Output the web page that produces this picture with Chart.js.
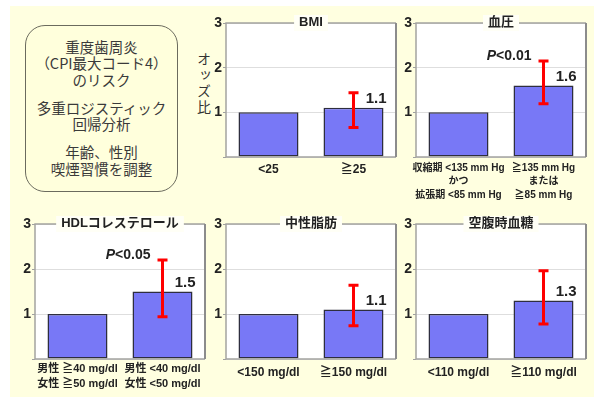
<!DOCTYPE html>
<html>
<head>
<meta charset="utf-8">
<script src="https://cdn.jsdelivr.net/npm/chart.js@4.4.1/dist/chart.umd.min.js"></script>
<style>
  html, body { margin: 0; padding: 0; background: #fff; }
  #page { position: relative; width: 594px; height: 397px; overflow: hidden; background: #fff;
          font-family: 'Noto Sans CJK JP', sans-serif; }
  #bg { position: absolute; left: 10px; top: 6px; right: 0; bottom: 0; background: #ffffe0; }
  #note { position: absolute; left: 25px; top: 25px; width: 153px; height: 167px; box-sizing: border-box;
          border: 1.5px solid #6b6b5e; border-radius: 20px; background: #ffffdc; color: #3a3a3a;
          font-size: 14.5px; line-height: 16.5px; text-align: center; padding-top: 12.5px; }
  #note .grp + .grp { margin-top: 11.5px; }
  #ylab { position: absolute; left: 197px; top: 52px; writing-mode: vertical-rl; font-size: 14px;
          letter-spacing: 2px; color: #333; line-height: 14px; }
  canvas { position: absolute; }
</style>
</head>
<body>
<div id="page">
  <div id="bg"></div>
  <div id="note">
    <div class="grp">重度歯周炎<br>（CPI最大コード4）<br>のリスク</div>
    <div class="grp">多重ロジスティック<br>回帰分析</div>
    <div class="grp">年齢、性別<br>喫煙習慣を調整</div>
  </div>
  <div id="ylab">オッズ比</div>
</div>
<script>
// Odds ratios of severe periodontitis by metabolic factor
const panelTitles = ['BMI', '血圧', 'HDLコレステロール', '中性脂肪', '空腹時血糖'];
const bmiGroups = ['<25', '≧25'];
const bpGroups = [['収縮期 <135 mm Hg', 'かつ', '拡張期 <85 mm Hg'], ['≧135 mm Hg', 'または', '≧85 mm Hg']];
const hdlGroups = [['男性 ≧40 mg/dl', '女性 ≧50 mg/dl'], ['男性 <40 mg/dl', '女性 <50 mg/dl']];
const tgGroups = ['<150 mg/dl', '≧150 mg/dl'];
const fbgGroups = ['<110 mg/dl', '≧110 mg/dl'];
const oddsRatios = [[1.0, 1.1], [1.0, 1.6], [1.0, 1.5], [1.0, 1.1], [1.0, 1.3]];
const ciLower = [0.66, 1.19, 0.94, 0.74, 0.78];
const ciUpper = [1.44, 2.15, 2.20, 1.64, 1.96];
const pLabels = ['', 'P<0.01', 'P<0.05', '', ''];
const yTicks = [1, 2, 3];

const FONT = "'Liberation Sans', Arial, 'Noto Sans CJK JP', sans-serif";
Chart.defaults.font.family = FONT;

// white plot area, frame, CI whiskers, value / P labels and the boxed panel title
const decor = {
  id: 'decor',
  beforeDraw(chart) {
    const a = chart.chartArea, ctx = chart.ctx;
    ctx.save();
    ctx.fillStyle = '#ffffff';
    ctx.fillRect(a.left, a.top, a.right - a.left, a.bottom - a.top);
    ctx.restore();
  },
  afterDatasetsDraw(chart) {
    const o = chart.options.plugins.decor;
    const a = chart.chartArea, ctx = chart.ctx, ys = chart.scales.y;
    ctx.save();
    // frame
    ctx.strokeStyle = '#a4a4a0';
    ctx.lineWidth = 1.5;
    ctx.beginPath();
    ctx.moveTo(a.right, a.top); ctx.lineTo(a.left, a.top); ctx.lineTo(a.left, a.bottom); ctx.lineTo(a.right, a.bottom);
    ctx.stroke();
    ctx.strokeStyle = '#8c8c8c';
    ctx.lineWidth = 2;
    ctx.beginPath(); ctx.moveTo(a.right, a.top); ctx.lineTo(a.right, a.bottom); ctx.stroke();

    // confidence interval on the exposed group
    const bar = chart.getDatasetMeta(0).data[1];
    const x = bar.x;
    const yHi = ys.getPixelForValue(o.hi), yLo = ys.getPixelForValue(o.lo);
    ctx.strokeStyle = '#ff0000';
    ctx.lineWidth = 3;
    ctx.beginPath();
    ctx.moveTo(x, yHi); ctx.lineTo(x, yLo);
    ctx.moveTo(x - 5, yHi); ctx.lineTo(x + 5, yHi);
    ctx.moveTo(x - 5, yLo); ctx.lineTo(x + 5, yLo);
    ctx.stroke();

    // odds ratio value
    const val = chart.data.datasets[0].data[1];
    ctx.fillStyle = '#222';
    ctx.textAlign = 'right';
    ctx.textBaseline = 'middle';
    ctx.font = 'bold 15px ' + FONT;
    ctx.fillText(val.toFixed(1), bar.x + bar.width / 2 + 3, bar.y - 9);

    // significance
    if (o.p) {
      const rest = o.p.slice(1);
      ctx.font = 'bold 14px ' + FONT;
      const w = ctx.measureText(rest).width;
      const rx = x - 12, py = yHi - 5;
      ctx.fillText(rest, rx, py);
      ctx.font = 'italic bold 14px ' + FONT;
      ctx.fillText(o.p.charAt(0), rx - w, py);
    }

    // title box
    ctx.font = 'bold 13px ' + FONT;
    const tw = ctx.measureText(o.title).width;
    const cx = (a.left + a.right) / 2;
    ctx.fillStyle = '#fffff6';
    ctx.fillRect(cx - tw / 2 - 5, a.top - 8, tw + 10, 16);
    ctx.fillStyle = '#222';
    ctx.textAlign = 'center';
    ctx.fillText(o.title, cx, a.top - 1);
    ctx.restore();
  }
};

const page = document.getElementById('page');

function makePanel(i, groups, lay) {
  const cv = document.createElement('canvas');
  cv.width = 200;
  cv.height = lay.h;
  cv.style.left = lay.left + 'px';
  cv.style.top = lay.top + 'px';
  page.appendChild(cv);
  new Chart(cv, {
    type: 'bar',
    data: {
      labels: groups,
      datasets: [{
        data: oddsRatios[i],
        backgroundColor: '#7878f6',
        borderColor: '#2e2e3e',
        borderWidth: 1.5,
        borderSkipped: false,
        barPercentage: 0.706,
        categoryPercentage: 1
      }]
    },
    options: {
      responsive: false,
      animation: false,
      devicePixelRatio: 1,
      layout: { autoPadding: false, padding: { top: lay.padTop, right: 4, left: 0, bottom: 0 } },
      plugins: {
        legend: { display: false },
        tooltip: { enabled: false },
        decor: { title: panelTitles[i], lo: ciLower[i], hi: ciUpper[i], p: pLabels[i] }
      },
      scales: {
        x: {
          grid: { display: false, drawTicks: false },
          border: { display: false },
          ticks: {
            autoSkip: false, maxRotation: 0, minRotation: 0, padding: lay.tickPad, color: '#222',
            font: { size: lay.fs, weight: 'bold', lineHeight: lay.lh }
          },
          afterFit: s => { s.height = lay.axisH; }
        },
        y: {
          min: 0,
          max: yTicks[yTicks.length - 1],
          grid: { color: '#dedede', tickColor: '#a0a0a0', tickLength: 3 },
          border: { display: false },
          ticks: {
            stepSize: 1, padding: 1, color: '#222', font: { size: 14, weight: 'bold' },
            callback: v => (yTicks.includes(v) ? String(v) : '')
          },
          afterFit: s => { s.width = 26; }
        }
      }
    },
    plugins: [decor]
  });
}

makePanel(0, bmiGroups, { left: 200, top: 0, h: 205, padTop: 23, axisH: 48, fs: 12, lh: '14.4px', tickPad: 5 });
makePanel(1, bpGroups,  { left: 390, top: 0, h: 205, padTop: 23, axisH: 48, fs: 10, lh: '13.5px', tickPad: 4 });
makePanel(2, hdlGroups, { left: 9,   top: 200, h: 197, padTop: 24, axisH: 38, fs: 11, lh: '15px', tickPad: 2 });
makePanel(3, tgGroups,  { left: 200, top: 200, h: 197, padTop: 24, axisH: 38, fs: 12, lh: '14.4px', tickPad: 6 });
makePanel(4, fbgGroups, { left: 390, top: 200, h: 197, padTop: 24, axisH: 38, fs: 12, lh: '14.4px', tickPad: 6 });
</script>
</body>
</html>
